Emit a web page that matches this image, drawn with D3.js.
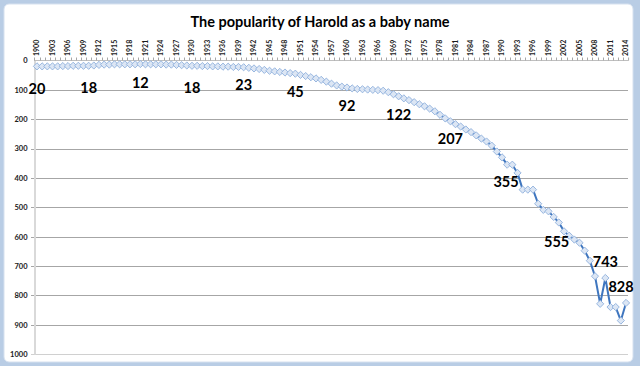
<!DOCTYPE html>
<html><head><meta charset="utf-8">
<script src="https://cdn.jsdelivr.net/npm/d3@7"></script>
<style>html,body{margin:0;padding:0;background:#b9cde5;}svg{display:block;}</style>
</head><body>
<script>
const years = d3.range(1900, 2015);
const ranks = [
 20,20,20,20,20,19,19,18,18,18,
 18,17,15,14,14,13,13,13,13,13,
 12,13,13,13,13,14,14,15,16,17,
 18,18,19,19,20,20,21,21,22,22,
 23,25,27,29,32,35,37,39,41,43,
 45,49,53,57,61,66,72,79,85,89,
 92,95,97,98,99,100,101,103,108,115,
 122,129,135,142,149,156,164,173,185,197,
 207,217,225,235,244,255,266,276,290,310,
 330,355,355,383,440,440,440,488,509,514,
 533,552,582,597,610,621,648,682,735,829,
 741,840,840,886,826
];
const labelYears = [1900,1910,1920,1930,1940,1950,1960,1970,1980,1990,2000,2010,2014];
const labelTexts = ["20","18","12","18","23","45","92","122","207","355","555","743","828"];
const yTicks = [0,100,200,300,400,500,600,700,800,900,1000];
const title = "The popularity of Harold as a baby name";

// layout (not data)
const labelDx = [0,0,0,0,0,0,0,0,0,4,3,0,-5];
const labelDy = [22,22,19,22,18,18,18,18,18,17,18.5,-16.5,-16.5];

const W = 640, H = 366;
const svg = d3.select("body").append("svg").attr("width", W).attr("height", H);
svg.append("rect").attr("width", W).attr("height", H).attr("fill", "#b9cde5");
svg.append("rect").attr("x", 4).attr("y", 4).attr("width", 629).attr("height", 358)
  .attr("rx", 5).attr("fill", "#ffffff").attr("stroke", "#d6e1ef").attr("stroke-width", 1);

const x = d3.scaleBand().domain(years).range([34.4, 628.6]);
const bw = x.bandwidth();
const cx = yr => x(yr) + bw / 2;
const y = d3.scaleLinear().domain([0, 1000]).range([60.5, 354]);

// title
svg.append("text").attr("x", 320).attr("y", 27).attr("text-anchor", "middle")
  .attr("font-family", "Lato, 'Open Sans', sans-serif").attr("font-weight", "bold")
  .attr("font-size", 14.5).attr("fill", "#000").text(title);

// gridlines
svg.append("g").selectAll("line").data(yTicks.filter(d => d > 0)).join("line")
  .attr("x1", 31).attr("x2", 628).attr("y1", d => Math.round(y(d)) + 0.5).attr("y2", d => Math.round(y(d)) + 0.5)
  .attr("stroke", d => d === 1000 ? "#d0d0d0" : "#a6a6a6").attr("stroke-width", 1);

// left axis
const yAxis = d3.axisLeft(y).tickValues(yTicks).tickFormat(d3.format("d")).tickSize(0).tickPadding(7);
const gy = svg.append("g").attr("transform", "translate(34.5,0)").call(yAxis);
gy.select(".domain").attr("stroke", "#d9d9d9").attr("stroke-width", 2);
gy.selectAll("text").attr("font-family", "Lato, sans-serif").attr("font-weight", "bold")
  .attr("font-size", 7.5).attr("fill", "#1a1a1a");

// top axis
const gx = svg.append("g");
gx.append("line").attr("x1", 34).attr("x2", 628.6).attr("y1", 60.5).attr("y2", 60.5)
  .attr("stroke", "#bfbfbf").attr("stroke-width", 1);
gx.selectAll("line.tk").data(years.concat([null])).join("line").attr("class", "tk")
  .attr("x1", d => d === null ? 628.6 : Math.round(x(d)) + 0.5)
  .attr("x2", d => d === null ? 628.6 : Math.round(x(d)) + 0.5)
  .attr("y1", 60.5).attr("y2", 57.5).attr("stroke", "#a6a6a6").attr("stroke-width", 1);
const topAxis = d3.axisTop(x).tickValues(years.filter((d, i) => i % 3 === 0)).tickSize(0).tickPadding(0);
const gt = svg.append("g").attr("transform", "translate(0,56)").call(topAxis);
gt.select(".domain").remove();
gt.selectAll("text").attr("font-family", "Lato, sans-serif").attr("font-weight", "bold")
  .attr("font-size", 7).attr("fill", "#1a1a1a")
  .attr("transform", "rotate(-90)").attr("text-anchor", "start").attr("dy", "0.35em").attr("x", 0).attr("y", 0);

// line
const pts = years.map((yr, i) => [cx(yr), y(ranks[i])]);
svg.append("path").datum(pts).attr("d", d3.line()).attr("fill", "none")
  .attr("stroke", "#3f76bf").attr("stroke-width", 2).attr("stroke-linejoin", "round");

// markers
const dia = "M0,-3.6L3.6,0L0,3.6L-3.6,0Z";
svg.append("g").selectAll("path").data(pts).join("path")
  .attr("d", dia).attr("transform", d => `translate(${d[0]},${d[1]})`)
  .attr("fill", "#dce6f4").attr("stroke", "#8fb0dc").attr("stroke-width", 0.9);

// data labels
svg.append("g").selectAll("text").data(labelYears).join("text")
  .attr("x", (d, i) => cx(d) + labelDx[i])
  .attr("y", (d, i) => y(+labelTexts[i]) + labelDy[i])
  .attr("dy", "0.36em").attr("text-anchor", "middle")
  .attr("font-family", "Lato, sans-serif").attr("font-weight", "bold").attr("font-size", 14.5)
  .attr("fill", "#000").text((d, i) => labelTexts[i]);
</script>
</body></html>
